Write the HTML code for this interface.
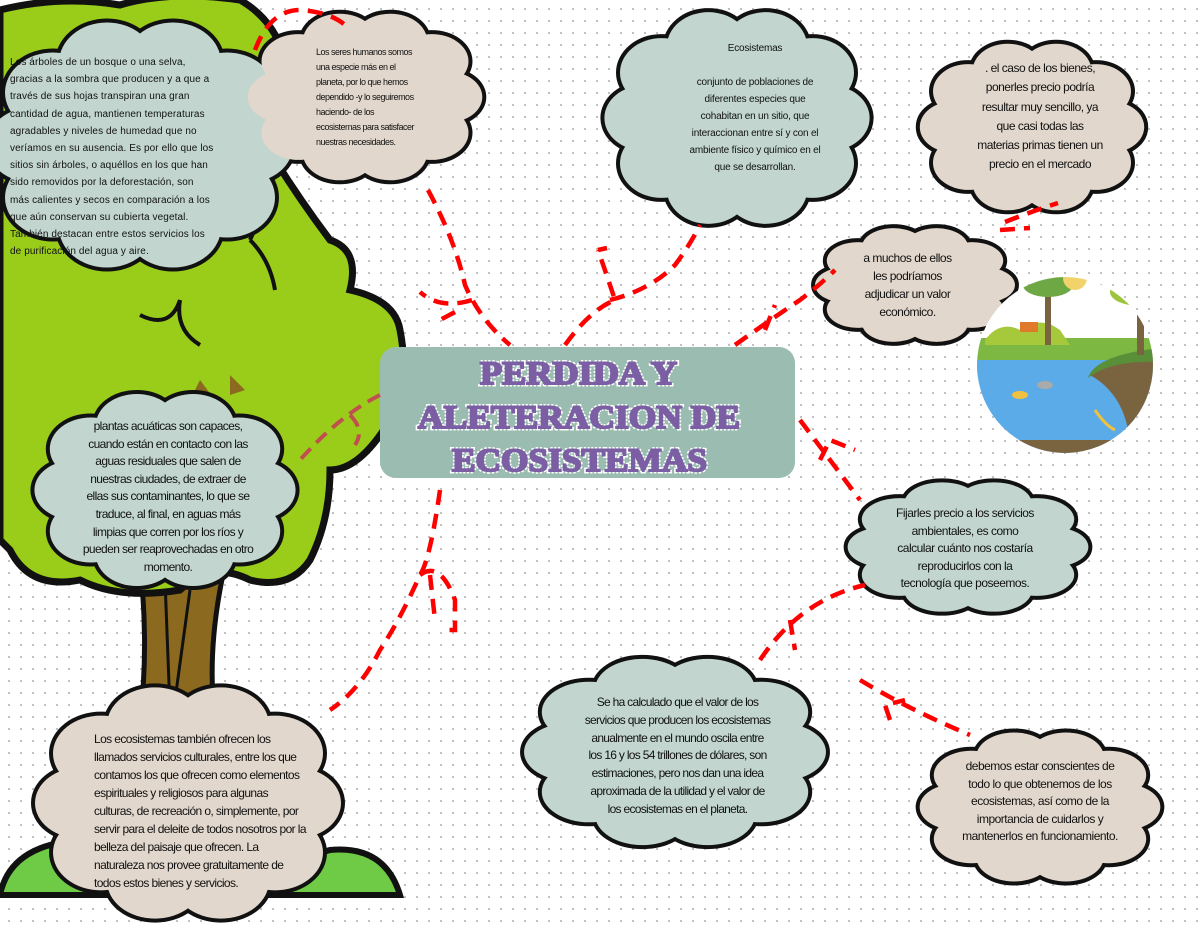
<!DOCTYPE html>
<html><head><meta charset="utf-8">
<style>
html,body{margin:0;padding:0}
body{width:1200px;height:927px;position:relative;overflow:hidden;background-color:#fff;background-image:radial-gradient(circle,#b9b9b9 0.9px,transparent 1.3px);background-size:12px 12px;background-position:3px 3px;font-family:"Liberation Sans",sans-serif}
svg{position:absolute;left:0;top:0}
.t{position:absolute;color:#111;font-family:"Liberation Sans",sans-serif;white-space:nowrap;letter-spacing:-0.5px}
.c{text-align:center}
</style></head><body>
<svg width="1200" height="927" viewBox="0 0 1200 927">
<defs>
<g id="cl">
<ellipse cx="0" cy="0" rx="0.72" ry="0.62" vector-effect="non-scaling-stroke"/>
<circle cx="0.72" cy="0" r="0.3" vector-effect="non-scaling-stroke"/>
<circle cx="0.58" cy="0.42" r="0.32" vector-effect="non-scaling-stroke"/>
<circle cx="0.22" cy="0.66" r="0.32" vector-effect="non-scaling-stroke"/>
<circle cx="-0.22" cy="0.66" r="0.32" vector-effect="non-scaling-stroke"/>
<circle cx="-0.58" cy="0.42" r="0.32" vector-effect="non-scaling-stroke"/>
<circle cx="-0.72" cy="0" r="0.3" vector-effect="non-scaling-stroke"/>
<circle cx="-0.58" cy="-0.42" r="0.32" vector-effect="non-scaling-stroke"/>
<circle cx="-0.22" cy="-0.66" r="0.32" vector-effect="non-scaling-stroke"/>
<circle cx="0.22" cy="-0.66" r="0.32" vector-effect="non-scaling-stroke"/>
<circle cx="0.58" cy="-0.42" r="0.32" vector-effect="non-scaling-stroke"/>
</g>
<clipPath id="eco"><circle cx="1065" cy="365" r="88"/></clipPath>
<g id="ttl">
<text x="480" y="384" textLength="197" lengthAdjust="spacingAndGlyphs">PERDIDA Y</text>
<text x="418" y="428" textLength="322" lengthAdjust="spacingAndGlyphs">ALETERACION DE</text>
<text x="452" y="471" textLength="255" lengthAdjust="spacingAndGlyphs">ECOSISTEMAS</text>
</g>
</defs>

<path d="M0,895 Q10,845 80,840 Q200,835 260,850 Q300,860 330,850 Q385,845 400,895 Z" fill="#6fcb45" stroke="#111" stroke-width="6"/>
<path d="M138,545 Q150,640 140,720 L215,720 Q205,640 230,545 Z" fill="#8b6a1f" stroke="#111" stroke-width="5"/>
<path d="M165,580 L170,710 M190,590 L175,700" stroke="#111" stroke-width="3" fill="none"/>
<path d="M0,10 Q60,-5 120,5 Q170,-10 240,0 Q275,20 285,60 Q290,100 275,160 Q300,200 330,240 Q360,250 350,290 Q395,300 400,330 Q410,380 390,420 Q360,470 330,470 Q330,520 310,560 Q290,590 250,580 Q210,560 180,590 Q120,600 80,580 Q30,590 10,550 L0,540 Z" fill="#9acd1a" stroke="#111" stroke-width="7"/>
<path d="M140,315 Q170,330 180,300 M180,300 Q175,330 200,345 M240,170 Q270,200 250,240 M250,240 Q270,260 275,290" stroke="#111" stroke-width="4" fill="none"/>
<path d="M200,380 L215,400 L190,400 Z M230,375 L245,390 L230,395Z" fill="#8b6a1f"/>

<g stroke="#111" stroke-width="8" fill="#111">
<use href="#cl" transform="translate(140,145) scale(150,125)"/>
<use href="#cl" transform="translate(365,97) scale(115,85)"/>
<use href="#cl" transform="translate(737,118) scale(130,108)"/>
<use href="#cl" transform="translate(1032,127) scale(110,85)"/>
<use href="#cl" transform="translate(915,285) scale(98,58)"/>
<use href="#cl" transform="translate(968,547) scale(118,66)"/>
<use href="#cl" transform="translate(675,752) scale(148,95)"/>
<use href="#cl" transform="translate(1040,807) scale(118,76)"/>
<use href="#cl" transform="translate(165,490) scale(128,98)"/>
<use href="#cl" transform="translate(188,803) scale(150,118)"/>
</g>
<g stroke="none">
<use href="#cl" transform="translate(140,145) scale(150,125)" fill="#c2d6cf"/>
<use href="#cl" transform="translate(365,97) scale(115,85)" fill="#e2d7cc"/>
<use href="#cl" transform="translate(737,118) scale(130,108)" fill="#c2d6cf"/>
<use href="#cl" transform="translate(1032,127) scale(110,85)" fill="#e2d7cc"/>
<use href="#cl" transform="translate(915,285) scale(98,58)" fill="#e2d7cc"/>
<use href="#cl" transform="translate(968,547) scale(118,66)" fill="#c2d6cf"/>
<use href="#cl" transform="translate(675,752) scale(148,95)" fill="#c2d6cf"/>
<use href="#cl" transform="translate(1040,807) scale(118,76)" fill="#e2d7cc"/>
<use href="#cl" transform="translate(165,490) scale(128,98)" fill="#c2d6cf"/>
<use href="#cl" transform="translate(188,803) scale(150,118)" fill="#e2d7cc"/>
</g>

<rect x="380" y="347" width="415" height="131" rx="16" fill="#9bbcb1"/>
<g font-family="Liberation Serif,serif" font-weight="bold" font-size="33">
<use href="#ttl" fill="#fff" stroke="#fff" stroke-width="5" stroke-dasharray="2 1.5"/>
<use href="#ttl" fill="#7b5ea3" stroke="#7b5ea3" stroke-width="2"/>
</g>

<g fill="none" stroke="#ff0000" stroke-width="4.5" stroke-dasharray="15 9" stroke-linecap="butt">
<path d="M428,190 Q455,240 465,285 Q480,320 510,345"/>
<path d="M472,300 Q440,310 420,292 M455,312 L440,320"/>
<path d="M255,50 Q270,10 300,10 Q330,12 345,25"/>
<path d="M565,345 Q590,310 615,300 Q605,270 598,250 M598,250 L607,248"/>
<path d="M610,300 Q650,290 675,265 Q690,245 700,225"/>
<path d="M735,345 Q770,320 800,300 Q820,285 835,270"/>
<path d="M1005,222 Q1030,212 1058,203"/>
<path d="M765,330 L775,305 M1000,230 L1030,228"/>
<path d="M800,420 Q830,460 860,500 M820,460 L830,440 L855,450"/>
<path d="M760,660 Q800,600 865,585 M790,620 L795,650"/>
<path d="M860,680 Q910,710 970,735 M890,720 L885,705 L905,700"/>
<path d="M440,490 Q430,560 420,575 Q400,620 380,650 Q360,690 330,710 M420,575 Q440,560 455,600 L455,630 L445,630 M430,575 L435,620"/>
</g>
<path d="M380,395 Q340,415 300,460 M350,415 Q365,430 355,445" fill="none" stroke="#c0504d" stroke-width="4" stroke-dasharray="14 8"/>

<g clip-path="url(#eco)">
<rect x="970" y="270" width="190" height="190" fill="#fff"/>
<rect x="970" y="338" width="190" height="40" fill="#7db843"/>
<path d="M985,340 Q1000,320 1020,330 Q1040,315 1060,330 L1070,345 L985,345Z" fill="#a5c93b"/>
<rect x="970" y="360" width="190" height="110" fill="#5aabe8"/>
<path d="M1090,375 Q1100,355 1160,350 L1160,470 L1130,470 Q1135,400 1090,375Z" fill="#7a6440"/>
<path d="M1088,378 Q1095,355 1160,348 L1160,362 Q1110,360 1088,378Z" fill="#5a8f3a"/>
<rect x="970" y="440" width="190" height="30" fill="#7a6440"/>
<rect x="1045" y="290" width="6" height="55" fill="#7a6440"/>
<ellipse cx="1048" cy="285" rx="25" ry="12" fill="#6ea844"/>
<rect x="1137" y="295" width="7" height="60" fill="#7a6440"/>
<ellipse cx="1140" cy="292" rx="30" ry="14" fill="#9cc43c"/>
<circle cx="1075" cy="278" r="12" fill="#f2d36b"/>
<rect x="1020" y="322" width="18" height="10" fill="#e07a2a"/>
<ellipse cx="1020" cy="395" rx="8" ry="4" fill="#f0c040"/>
<ellipse cx="1045" cy="385" rx="8" ry="4" fill="#aaa"/>
<path d="M1095,410 Q1105,425 1115,430" stroke="#f0c040" stroke-width="3" fill="none"/>
</g>
</svg>

<div class="t" style="left:10px;top:54px;font-size:10px;line-height:17.2px;letter-spacing:0.1px">Los árboles de un bosque o una selva,<br>gracias a la sombra que producen y a que a<br>través de sus hojas transpiran una gran<br>cantidad de agua, mantienen temperaturas<br>agradables y niveles de humedad que no<br>veríamos en su ausencia. Es por ello que los<br>sitios sin árboles, o aquéllos en los que han<br>sido removidos por la deforestación, son<br>más calientes y secos en comparación a los<br>que aún conservan su cubierta vegetal.<br>También destacan entre estos servicios los<br>de purificación del agua y aire.</div>
<div class="t" style="left:316px;top:45px;font-size:9px;line-height:15px">Los seres humanos somos<br>una especie más en el<br>planeta, por lo que hemos<br>dependido -y lo seguiremos<br>haciendo- de los<br>ecosistemas para satisfacer<br>nuestras necesidades.</div>
<div class="t c" style="left:655px;top:40px;width:200px;font-size:10px;line-height:17px;letter-spacing:-0.2px">Ecosistemas<br><br>conjunto de poblaciones de<br>diferentes especies que<br>cohabitan en un sitio, que<br>interaccionan entre sí y con el<br>ambiente físico y químico en el<br>que se desarrollan.</div>
<div class="t c" style="left:940px;top:59px;width:200px;font-size:12px;line-height:19.3px">. el caso de los bienes,<br>ponerles precio podría<br>resultar muy sencillo, ya<br>que casi todas las<br>materias primas tienen un<br>precio en el mercado</div>
<div class="t c" style="left:845px;top:249px;width:125px;font-size:12px;line-height:18px">a muchos de ellos<br>les podríamos<br>adjudicar un valor<br>económico.</div>
<div class="t c" style="left:875px;top:505px;width:180px;font-size:12px;line-height:17.5px">Fijarles precio a los servicios<br>ambientales, es como<br>calcular cuánto nos costaría<br>reproducirlos con la<br>tecnología que poseemos.</div>
<div class="t c" style="left:565px;top:694px;width:225px;font-size:12px;line-height:17.8px;letter-spacing:-0.7px">Se ha calculado que el valor de los<br>servicios que producen los ecosistemas<br>anualmente en el mundo oscila entre<br>los 16 y los 54 trillones de dólares, son<br>estimaciones, pero nos dan una idea<br>aproximada de la utilidad y el valor de<br>los ecosistemas en el planeta.</div>
<div class="t c" style="left:940px;top:758px;width:200px;font-size:12px;line-height:17.5px">debemos estar conscientes de<br>todo lo que obtenemos de los<br>ecosistemas, así como de la<br>importancia de cuidarlos y<br>mantenerlos en funcionamiento.</div>
<div class="t c" style="left:58px;top:418px;width:220px;font-size:12px;line-height:17.6px;letter-spacing:-0.6px">plantas acuáticas son capaces,<br>cuando están en contacto con las<br>aguas residuales que salen de<br>nuestras ciudades, de extraer de<br>ellas sus contaminantes, lo que se<br>traduce, al final, en aguas más<br>limpias que corren por los ríos y<br>pueden ser reaprovechadas en otro<br>momento.</div>
<div class="t" style="left:94px;top:730px;font-size:12px;line-height:18px;letter-spacing:-0.6px">Los ecosistemas también ofrecen los<br>llamados servicios culturales, entre los que<br>contamos los que ofrecen como elementos<br>espirituales y religiosos para algunas<br>culturas, de recreación o, simplemente, por<br>servir para el deleite de todos nosotros por la<br>belleza del paisaje que ofrecen. La<br>naturaleza nos provee gratuitamente de<br>todos estos bienes y servicios.</div>
</body></html>
